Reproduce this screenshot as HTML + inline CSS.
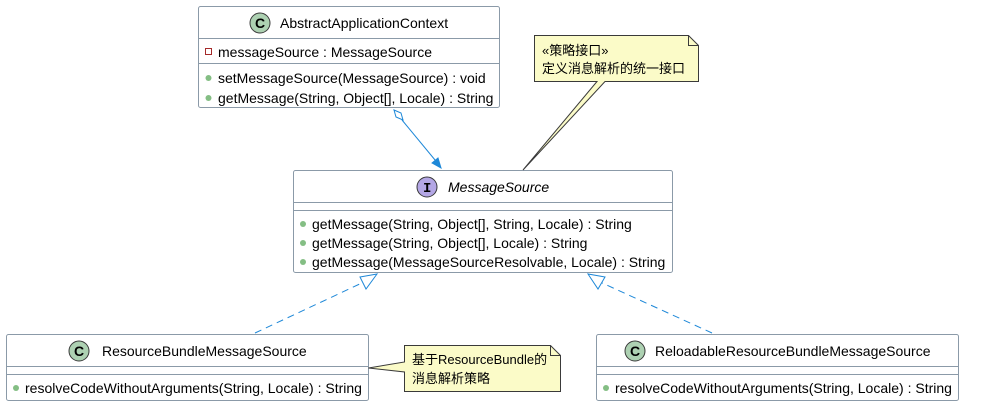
<!DOCTYPE html>
<html><head><meta charset="utf-8"><style>
html,body{margin:0;padding:0;background:#fff;width:982px;height:407px;overflow:hidden}
text{font-family:"Liberation Sans","Noto Sans CJK SC",sans-serif;font-size:14px;fill:#000}
text.n{font-size:13px}
</style></head><body>
<svg width="982" height="407" viewBox="0 0 982 407" xmlns="http://www.w3.org/2000/svg">
<g fill="#fff" stroke="#8b9aa8" stroke-width="1">
<rect x="198.5" y="6.5" width="301" height="101" rx="2"/>
<line x1="198.5" y1="38.5" x2="499.5" y2="38.5"/>
<line x1="198.5" y1="63.5" x2="499.5" y2="63.5"/>
<rect x="293.5" y="170.5" width="379" height="102" rx="2"/>
<line x1="293.5" y1="202.5" x2="672.5" y2="202.5"/>
<line x1="293.5" y1="210.5" x2="672.5" y2="210.5"/>
<rect x="6.5" y="334.5" width="362" height="66" rx="2"/>
<line x1="6.5" y1="366.5" x2="368.5" y2="366.5"/>
<line x1="6.5" y1="374.5" x2="368.5" y2="374.5"/>
<rect x="596.5" y="334.5" width="362" height="66" rx="2"/>
<line x1="596.5" y1="366.5" x2="958.5" y2="366.5"/>
<line x1="596.5" y1="374.5" x2="958.5" y2="374.5"/>
</g>
<g stroke="#3a3a3a" stroke-width="1">
<circle cx="260" cy="23" r="10" fill="#add1b2"/>
<circle cx="427" cy="187" r="10" fill="#b4a7e5"/>
<circle cx="79" cy="351" r="10" fill="#add1b2"/>
<circle cx="635" cy="351" r="10" fill="#add1b2"/>
</g>
<g font-weight="bold">
<text x="255" y="28">C</text><text x="630" y="356">C</text><text x="74" y="356">C</text>
<text x="423" y="192" style="font-family:'Liberation Mono',monospace">I</text>
</g>
<text x="280" y="28">AbstractApplicationContext</text>
<text x="448" y="192" font-style="italic">MessageSource</text>
<text x="102" y="356">ResourceBundleMessageSource</text>
<text x="655" y="356">ReloadableResourceBundleMessageSource</text>
<rect x="205.5" y="48.5" width="6" height="6" fill="none" stroke="#a52a2a"/>
<text x="218" y="57">messageSource : MessageSource</text>
<g fill="#84be84">
<circle cx="208.5" cy="78" r="3"/><circle cx="208.5" cy="98" r="3"/>
<circle cx="303" cy="224" r="3"/><circle cx="303" cy="243" r="3"/><circle cx="303" cy="262" r="3"/>
<circle cx="16" cy="388" r="3"/><circle cx="606" cy="388" r="3"/>
</g>
<text x="218" y="83">setMessageSource(MessageSource) : void</text>
<text x="218" y="103">getMessage(String, Object[], Locale) : String</text>
<text x="312" y="229">getMessage(String, Object[], String, Locale) : String</text>
<text x="312" y="248">getMessage(String, Object[], Locale) : String</text>
<text x="312" y="267">getMessage(MessageSourceResolvable, Locale) : String</text>
<text x="25" y="393">resolveCodeWithoutArguments(String, Locale) : String</text>
<text x="615" y="393">resolveCodeWithoutArguments(String, Locale) : String</text>
<g stroke="#1e88d8" fill="none" stroke-width="1">
<path d="M394,110 L401,113 L403,120 L396,117 Z" fill="#fff"/>
<line x1="402" y1="120" x2="440" y2="166"/>
<path d="M432,163 L441,168 L438,158 Z" fill="#1e88d8"/>
<line x1="255" y1="333" x2="364" y2="282" stroke-dasharray="7,5"/>
<path d="M377,274 L360,277 L366,289 Z" fill="#fff"/>
<line x1="712" y1="333" x2="600" y2="282" stroke-dasharray="7,5"/>
<path d="M588,274 L598,289 L605,277 Z" fill="#fff"/>
</g>
<g stroke="#3a3a3a" stroke-width="1" fill="#fbfbc8">
<path d="M534.5,35.5 H688.5 L698.5,45.5 V81.5 H605 L523,170 L597,81.5 H534.5 Z"/>
<path d="M688.5,35.5 V45.5 H698.5" fill="none"/>
<path d="M404.5,345.5 H550.5 L560.5,355.5 V391.5 H404.5 V372 L368.5,368 L404.5,362 Z"/>
<path d="M550.5,345.5 V355.5 H560.5" fill="none"/>
</g>
<text class="n" x="542" y="55">«策略接口»</text>
<text class="n" x="542" y="73">定义消息解析的统一接口</text>
<text class="n" x="412" y="364">基于ResourceBundle的</text>
<text class="n" x="412" y="383">消息解析策略</text>
</svg>
</body></html>
